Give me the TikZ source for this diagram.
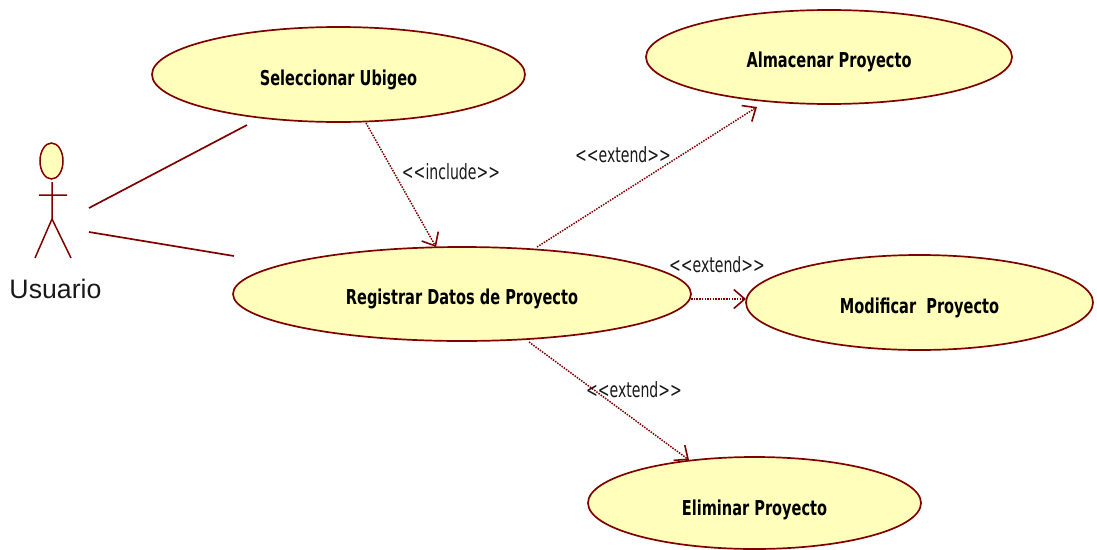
\documentclass[tikz,border=0pt]{standalone}
\usepackage{fontspec}
\setmainfont{Liberation Sans}
\newfontfamily\ucfont[FakeStretch=0.67]{DejaVu Sans}
\newfontfamily\ucbold[FakeStretch=0.71]{DejaVu Sans Bold}
\usetikzlibrary{shapes.geometric,arrows.meta}
\definecolor{umlred}{RGB}{128,0,0}
\definecolor{umlfill}{RGB}{255,255,187}
\tikzset{
  usecase/.style={ellipse,draw=umlred,fill=umlfill,line width=1.7pt,inner sep=0pt},
  uctext/.style={font=\ucbold\fontsize{20.5}{24}\selectfont,text=black,inner sep=0pt},
  assoc/.style={draw=umlred,line width=1.7pt},
  stick/.style={draw=umlred,line width=1.5pt},
  dep/.style={draw=umlred,line width=1.5pt,dash pattern=on 1.5pt off 1.2pt,
    -{Straight Barb[length=11pt,width=19pt,line width=1.6pt]}},
  stereo/.style={font=\ucfont\fontsize{21}{24}\selectfont,text=black!90,inner sep=0pt},
}
\begin{document}
\begin{tikzpicture}[x=1pt,y=-1pt]
\useasboundingbox (0,0) rectangle (1097,549);
% use cases
\node[usecase,minimum width=373pt,minimum height=95pt] (sel) at (338.5,74.5) {};
\node[uctext] (selt) at (338.5,80) {Seleccionar Ubigeo};
\node[usecase,minimum width=366pt,minimum height=94pt] (alm) at (829,57) {};
\node[uctext] (almt) at (829,62) {Almacenar Proyecto};
\node[usecase,minimum width=458pt,minimum height=94pt] (reg) at (462,294) {};
\node[uctext] (regt) at (462,299) {Registrar Datos de Proyecto};
\node[usecase,minimum width=347pt,minimum height=95pt] (mod) at (919.5,302.5) {};
\node[uctext] (modt) at (919.5,308) {Modificar\ \ Proyecto};
\node[usecase,minimum width=333pt,minimum height=92pt] (eli) at (754.5,503) {};
\node[uctext] (elit) at (754.5,510) {Eliminar Proyecto};
% actor
\node[ellipse,draw=umlred,fill=umlfill,line width=1.5pt,inner sep=0pt,minimum width=23pt,minimum height=36pt] (head) at (51.5,161) {};
\coordinate (neck) at (52,182);
\coordinate (hip) at (52,219);
\coordinate (armL) at (39,195);
\coordinate (armR) at (67,195);
\coordinate (footL) at (35,258);
\coordinate (footR) at (71,258);
\draw[stick] (neck) -- (hip) (armL) -- (armR) (footL) -- (hip) -- (footR);
\node[font=\fontsize{26.7}{30}\selectfont,text=black!90,inner sep=0pt] (usr) at (55.5,289) {Usuario};
% associations
\coordinate (a1) at (89,208);
\coordinate (a1e) at (247,125);
\coordinate (a2) at (89,232);
\coordinate (a2e) at (234,256);
\draw[assoc] (a1) -- (a1e);
\draw[assoc] (a2) -- (a2e);
% dependencies
\coordinate (d1s) at (366,123);
\coordinate (d1e) at (436,247);
\coordinate (d2s) at (537,247);
\coordinate (d2e) at (757,107);
\coordinate (d3s) at (691,299);
\coordinate (d3e) at (746,299);
\coordinate (d4s) at (529,342);
\coordinate (d4e) at (689,460);
\draw[dep] (d1s) -- (d1e);
\draw[dep] (d2s) -- (d2e);
\draw[dep] (d3s) -- (d3e);
\draw[dep] (d4s) -- (d4e);
% labels
\node[stereo] (l1) at (451,172) {<{}<include>{}>};
\node[stereo] (l2) at (623,155) {<{}<extend>{}>};
\node[stereo] (l3) at (717,265) {<{}<extend>{}>};
\node[stereo] (l4) at (634,390) {<{}<extend>{}>};
\end{tikzpicture}
\end{document}
